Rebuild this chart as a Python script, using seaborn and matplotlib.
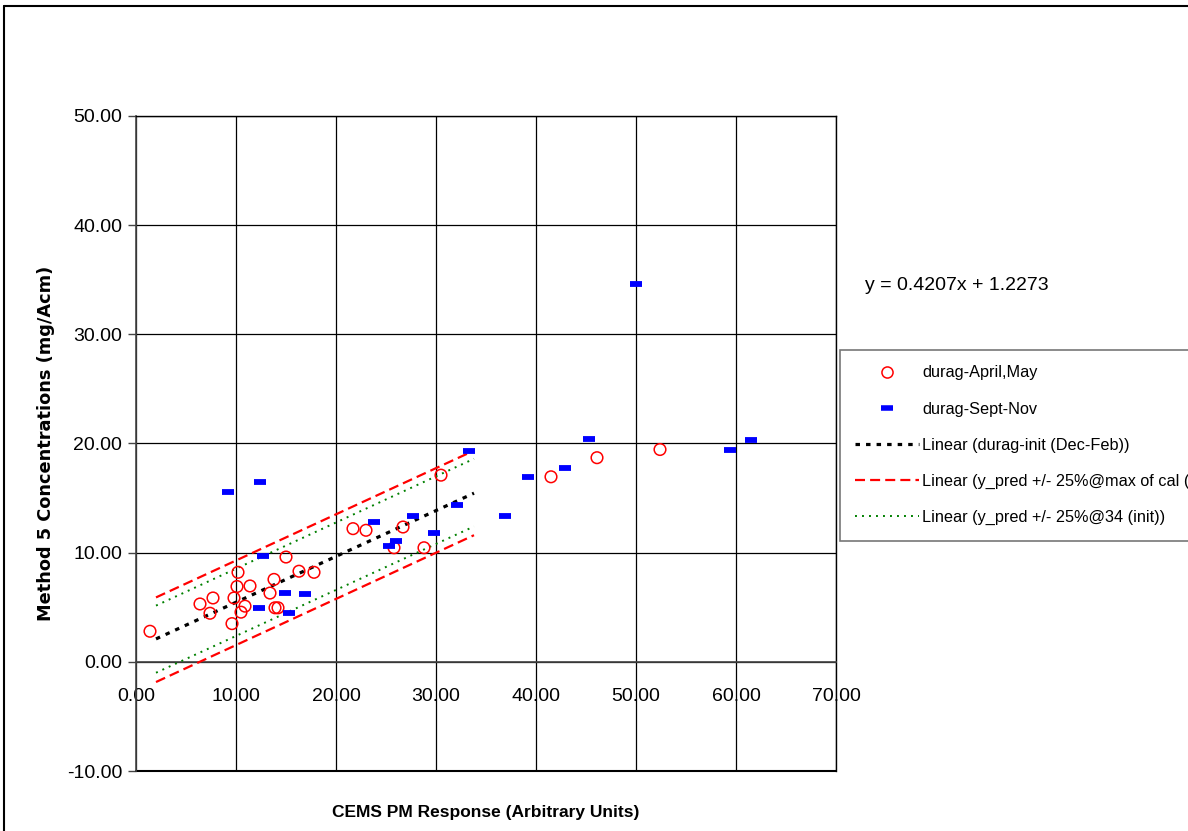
import matplotlib
matplotlib.use("Agg")
import matplotlib.pyplot as plt
import numpy as np
import pandas as pd
import seaborn as sns
from matplotlib.lines import Line2D

# ---------------- data ----------------
aprmay_x = [1.4, 6.4, 7.4, 7.7, 9.6, 9.8, 10.1, 10.2, 10.5, 10.9, 11.4, 13.4, 13.8, 13.9,
            14.2, 15.0, 16.3, 17.8, 21.7, 23.0, 25.8, 26.7, 28.8, 30.5, 41.5, 46.1, 52.4]
aprmay_y = [2.8, 5.3, 4.45, 5.85, 3.5, 5.85, 6.9, 8.2, 4.55, 5.1, 6.95, 6.3, 7.55, 4.95,
            4.95, 9.6, 8.3, 8.2, 12.2, 12.05, 10.45, 12.35, 10.45, 17.1, 16.95, 18.7, 19.45]

septnov_x = [9.2, 12.4, 12.7, 14.9, 16.9, 12.3, 15.3, 23.8, 26.0, 25.3, 27.7, 29.8, 32.1,
             33.3, 36.9, 39.2, 42.9, 45.3, 50.0, 59.4, 61.5]
septnov_y = [15.6, 16.5, 9.7, 6.3, 6.2, 4.95, 4.5, 12.8, 11.1, 10.6, 13.4, 11.8, 14.4,
             19.3, 13.4, 16.9, 17.8, 20.4, 34.6, 19.4, 20.3]

# trendline end points
trend_x = [2.0, 33.8]
init_y = [2.1, 15.45]
red_up_y = [5.9, 19.35]
red_lo_y = [-1.85, 11.6]
green_up_y = [5.15, 18.6]
green_lo_y = [-1.0, 12.4]

x_ticks = [0, 10, 20, 30, 40, 50, 60, 70]
y_ticks = [-10, 0, 10, 20, 30, 40, 50]

labels = ["durag-April,May", "durag-Sept-Nov", "Linear (durag-init (Dec-Feb))",
          "Linear (y_pred +/- 25%@max of cal (", "Linear (y_pred +/- 25%@34 (init))"]
equation = "y = 0.4207x + 1.2273"
xlabel = "CEMS PM Response (Arbitrary Units)"
ylabel = "Method 5 Concentrations (mg/Acm)"

# ---------------- style ----------------
sns.set_style("white")
plt.rcParams["font.family"] = ["Liberation Sans", "DejaVu Sans"]
plt.rcParams["text.color"] = "black"
plt.rcParams["axes.labelcolor"] = "black"
plt.rcParams["xtick.color"] = "black"
plt.rcParams["ytick.color"] = "black"

W, H = 1188, 831
fig = plt.figure(figsize=(W / 100, H / 100), dpi=100)
ax = fig.add_axes([136 / W, 1 - 771 / H, 700 / W, 655 / H])

df_a = pd.DataFrame({"x": aprmay_x, "y": aprmay_y})
df_s = pd.DataFrame({"x": septnov_x, "y": septnov_y})

# trend lines
lines = [
    (init_y, "black", 2.3, (0, (1.4, 1.9))),
    (red_up_y, "#ff0000", 1.6, (0, (4.5, 2.3))),
    (red_lo_y, "#ff0000", 1.6, (0, (4.5, 2.3))),
    (green_up_y, "#008000", 1.4, (0, (1, 2.6))),
    (green_lo_y, "#008000", 1.4, (0, (1, 2.6))),
]
for ys, col, lw, ls in lines:
    d = pd.DataFrame({"x": trend_x, "y": ys})
    sns.lineplot(data=d, x="x", y="y", ax=ax, color=col, linewidth=lw,
                 linestyle=ls, zorder=3, legend=False)

sns.scatterplot(data=df_a, x="x", y="y", ax=ax, marker="o", s=70,
                facecolor="none", edgecolor="#ff0000", linewidth=1.1, zorder=4, legend=False)
sns.scatterplot(data=df_s, x="x", y="y", ax=ax, marker="_", s=85,
                color="#0000ff", linewidth=4.2, zorder=4, legend=False)

ax.set_xlim(0, 70)
ax.set_ylim(-10, 50)
ax.set_xticks(x_ticks)
ax.set_yticks(y_ticks)
ax.set_xticklabels([f"{v:.2f}" for v in x_ticks])
ax.set_yticklabels([f"{v:.2f}" for v in y_ticks])

ax.grid(True, color="black", linewidth=0.9, zorder=1)
ax.set_axisbelow(True)

for s in ["top", "right"]:
    ax.spines[s].set_visible(True)
    ax.spines[s].set_color("black")
    ax.spines[s].set_linewidth(1)
ax.spines["left"].set_color("#444444")
ax.spines["left"].set_linewidth(1.2)
ax.spines["bottom"].set_position(("data", 0))
ax.spines["bottom"].set_color("#444444")
ax.spines["bottom"].set_linewidth(1.2)
ax.axhline(-10, color="black", linewidth=1.5, clip_on=False, zorder=1)

ax.tick_params(axis="y", direction="out", length=6, width=1, color="#444444",
               labelsize=14, pad=4, left=True)
ax.tick_params(axis="x", length=0, labelsize=14, pad=19, bottom=True)

ax.set_xlabel(xlabel, fontsize=12.5, fontweight="bold")
ax.set_ylabel(ylabel, fontsize=12.8, fontweight="bold", family="DejaVu Sans")
ax.xaxis.set_label_coords(0.5, -0.052)
ax.yaxis.set_label_coords(-0.115, 0.5)

fig.text(865 / W, 1 - 285 / H, equation, fontsize=14, va="center", ha="left")

handles = [
    Line2D([], [], linestyle="none", marker="o", markersize=8, markerfacecolor="none",
           markeredgecolor="#ff0000", markeredgewidth=1.1),
    Line2D([], [], linestyle="none", marker="_", markersize=9, color="#0000ff",
           markeredgewidth=4),
    Line2D([], [], color="black", linewidth=2.3, linestyle=(0, (1.4, 1.9))),
    Line2D([], [], color="#ff0000", linewidth=1.6, linestyle=(0, (4.5, 2.3))),
    Line2D([], [], color="#008000", linewidth=1.4, linestyle=(0, (1, 2.6))),
]
leg = fig.legend(handles, labels, loc="upper left",
                 bbox_to_anchor=(840 / W, 1 - 350 / H), frameon=True, fancybox=False,
                 edgecolor="#555555", fontsize=11.7, handlelength=3.9, handletextpad=0.2,
                 labelspacing=1.3, borderpad=0.95, borderaxespad=0)
leg.get_frame().set_linewidth(1.2)

# figure border (left and top visible)
fig.add_artist(Line2D([4 / W, 4 / W], [0, 1 - 6 / H], color="black", linewidth=1.5))
fig.add_artist(Line2D([4 / W, 1], [1 - 6 / H, 1 - 6 / H], color="black", linewidth=1.5))

fig.savefig("out.png", dpi=100)
